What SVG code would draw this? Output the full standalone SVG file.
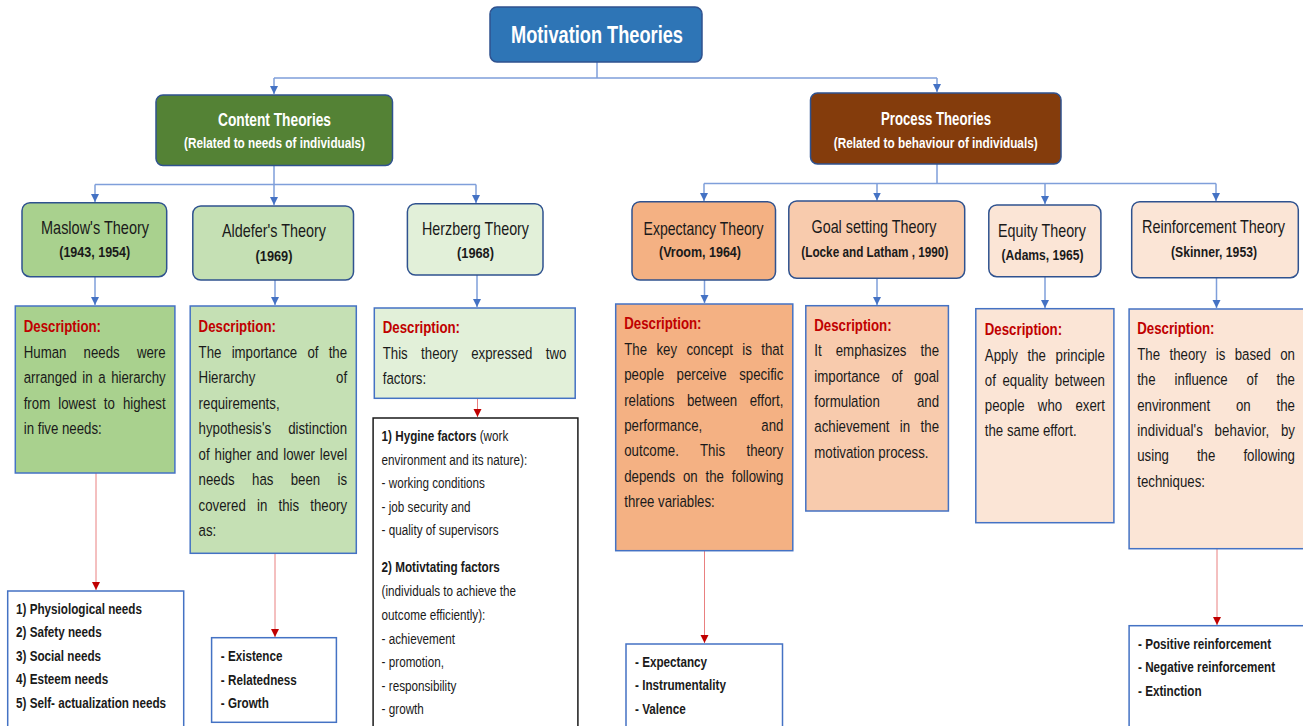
<svg xmlns="http://www.w3.org/2000/svg" width="1303" height="726" viewBox="0 0 1303 726">
<defs>
<marker id="ab" markerUnits="userSpaceOnUse" markerWidth="9" markerHeight="9" refX="8" refY="4" orient="auto"><path d="M0,0 L8,4 L0,8 z" fill="#4472C4"/></marker>
<marker id="ar" markerUnits="userSpaceOnUse" markerWidth="9" markerHeight="9" refX="8" refY="4" orient="auto"><path d="M0,0 L8,4 L0,8 z" fill="#C00000"/></marker>
<style>
text{font-family:"Liberation Sans",Arial,sans-serif;fill:#1a1a1a}
.w{fill:#fff;font-weight:bold}
.h{font-size:18px}
.y{font-size:15px;font-weight:bold}
.nb{stroke:#2F528F;stroke-width:1.5}
.db{stroke:#4472C4;stroke-width:1.5}
.d text{font-size:17px}
.dh{fill:#C00000!important;font-weight:bold}
.l text{font-size:15px}
.b{font-weight:bold}
.cb{fill:none;stroke:#7F9FDA;stroke-width:1.5}
.cr{fill:none;stroke:#E98080;stroke-width:1}
</style>
</defs>
<rect width="1303" height="726" fill="#fff"/>

<g id="connectors">
<path class="cb" d="M597 62 V78 M274 78 H937"/>
<path class="cb" d="M274 78 V94" marker-end="url(#ab)"/>
<path class="cb" d="M937 78 V92" marker-end="url(#ab)"/>
<path class="cb" d="M274 166 V184.5 M95 184.5 H476"/>
<path class="cb" d="M95 184.5 V202" marker-end="url(#ab)"/>
<path class="cb" d="M274 184.5 V205" marker-end="url(#ab)"/>
<path class="cb" d="M476 184.5 V203" marker-end="url(#ab)"/>
<path class="cb" d="M937 164 V183.5 M704 183.5 H1216"/>
<path class="cb" d="M704 183.5 V201" marker-end="url(#ab)"/>
<path class="cb" d="M877 183.5 V200.5" marker-end="url(#ab)"/>
<path class="cb" d="M1045 183.5 V204" marker-end="url(#ab)"/>
<path class="cb" d="M1216 183.5 V201" marker-end="url(#ab)"/>
<path class="cb" d="M95 277 V305" marker-end="url(#ab)"/>
<path class="cb" d="M275 280 V305" marker-end="url(#ab)"/>
<path class="cb" d="M477 275 V307" marker-end="url(#ab)"/>
<path class="cb" d="M704.5 280 V303" marker-end="url(#ab)"/>
<path class="cb" d="M877 278 V305" marker-end="url(#ab)"/>
<path class="cb" d="M1045 277 V308" marker-end="url(#ab)"/>
<path class="cb" d="M1216.5 278 V308" marker-end="url(#ab)"/>
<path class="cr" d="M96 473 V590" marker-end="url(#ar)"/>
<path class="cr" d="M275 553.5 V637" marker-end="url(#ar)"/>
<path class="cr" d="M477.5 398.5 V417" marker-end="url(#ar)"/>
<path class="cr" d="M704.5 551 V643" marker-end="url(#ar)"/>
<path class="cr" d="M1217 549 V625" marker-end="url(#ar)"/>
</g>

<g id="motivation">
<rect x="490" y="7" width="212" height="55" rx="7" fill="#2E75B6" class="nb"/>
<text class="w" transform="translate(597 0) scale(0.78 1)" x="0" y="43" font-size="24" text-anchor="middle" textLength="220.5" lengthAdjust="spacingAndGlyphs">Motivation Theories</text>
</g>

<g id="content">
<rect x="156" y="95" width="236.5" height="70.5" rx="7" fill="#548235" class="nb"/>
<text class="w" transform="translate(274.5 0) scale(0.78 1)" x="0" y="126" font-size="18" text-anchor="middle" textLength="144.9" lengthAdjust="spacingAndGlyphs">Content Theories</text>
<text class="w" transform="translate(274.5 0) scale(0.78 1)" x="0" y="148" font-size="15" text-anchor="middle" textLength="232.1" lengthAdjust="spacingAndGlyphs">(Related to needs of individuals)</text>
</g>

<g id="process">
<rect x="810.5" y="93" width="250.5" height="71" rx="7" fill="#843C0C" class="nb"/>
<text class="w" transform="translate(936 0) scale(0.78 1)" x="0" y="125" font-size="18" text-anchor="middle" textLength="141" lengthAdjust="spacingAndGlyphs">Process Theories</text>
<text class="w" transform="translate(935.7 0) scale(0.78 1)" x="0" y="148" font-size="15" text-anchor="middle" textLength="261.5" lengthAdjust="spacingAndGlyphs">(Related to behaviour of individuals)</text>
</g>

<g id="maslow">
<rect x="22" y="202.7" width="144.7" height="74" rx="8" fill="#A9D18E" class="nb"/>
<text class="h" transform="translate(95 0) scale(0.78 1)" x="0" y="234" text-anchor="middle" textLength="138.5" lengthAdjust="spacingAndGlyphs">Maslow's Theory</text>
<text class="y" transform="translate(94.7 0) scale(0.78 1)" x="0" y="257.5" text-anchor="middle" textLength="91" lengthAdjust="spacingAndGlyphs">(1943, 1954)</text>
</g>

<g id="aldefer">
<rect x="192.8" y="206" width="160.7" height="74" rx="8" fill="#C5E0B4" class="nb"/>
<text class="h" transform="translate(274 0) scale(0.78 1)" x="0" y="237" text-anchor="middle" textLength="133.3" lengthAdjust="spacingAndGlyphs">Aldefer's Theory</text>
<text class="y" transform="translate(274 0) scale(0.78 1)" x="0" y="261" text-anchor="middle" textLength="47.4" lengthAdjust="spacingAndGlyphs">(1969)</text>
</g>

<g id="herzberg">
<rect x="407.4" y="203.7" width="135.6" height="71.3" rx="8" fill="#E2F0D9" class="nb"/>
<text class="h" transform="translate(475.5 0) scale(0.78 1)" x="0" y="235" text-anchor="middle" textLength="137.2" lengthAdjust="spacingAndGlyphs">Herzberg Theory</text>
<text class="y" transform="translate(475.5 0) scale(0.78 1)" x="0" y="258.5" text-anchor="middle" textLength="47.4" lengthAdjust="spacingAndGlyphs">(1968)</text>
</g>

<g id="expectancy">
<rect x="632" y="201.7" width="143.5" height="78.3" rx="8" fill="#F4B183" class="nb"/>
<text class="h" transform="translate(703.5 0) scale(0.78 1)" x="0" y="235" text-anchor="middle" textLength="153.8" lengthAdjust="spacingAndGlyphs">Expectancy Theory</text>
<text class="y" transform="translate(700 0) scale(0.78 1)" x="0" y="257.5" text-anchor="middle" textLength="105.1" lengthAdjust="spacingAndGlyphs">(Vroom, 1964)</text>
</g>

<g id="goal">
<rect x="788.8" y="201" width="175.9" height="77.3" rx="8" fill="#F8CBAD" class="nb"/>
<text class="h" transform="translate(874 0) scale(0.78 1)" x="0" y="233" text-anchor="middle" textLength="160.3" lengthAdjust="spacingAndGlyphs">Goal setting Theory</text>
<text class="y" transform="translate(874.8 0) scale(0.78 1)" x="0" y="257.5" text-anchor="middle" textLength="188.5" lengthAdjust="spacingAndGlyphs">(Locke and Latham , 1990)</text>
</g>

<g id="equity">
<rect x="988.8" y="205" width="112.1" height="71.7" rx="8" fill="#FBE5D6" class="nb"/>
<text class="h" transform="translate(1042 0) scale(0.78 1)" x="0" y="237" text-anchor="middle" textLength="112.8" lengthAdjust="spacingAndGlyphs">Equity Theory</text>
<text class="y" transform="translate(1042.5 0) scale(0.78 1)" x="0" y="260.5" text-anchor="middle" textLength="105.1" lengthAdjust="spacingAndGlyphs">(Adams, 1965)</text>
</g>

<g id="reinforcement">
<rect x="1131.7" y="201.7" width="166.6" height="76" rx="8" fill="#FBE5D6" class="nb"/>
<text class="h" transform="translate(1213.5 0) scale(0.78 1)" x="0" y="233" text-anchor="middle" textLength="183.3" lengthAdjust="spacingAndGlyphs">Reinforcement Theory</text>
<text class="y" transform="translate(1214 0) scale(0.78 1)" x="0" y="257.5" text-anchor="middle" textLength="110.3" lengthAdjust="spacingAndGlyphs">(Skinner, 1953)</text>
</g>

<g id="maslow-desc">
<rect x="15.3" y="306" width="159.6" height="167" fill="#A9D18E" class="db"/>
<g class="d" transform="translate(23.7 0) scale(0.78 1)">
<text class="dh" x="0" y="332.5">Description:</text>
<text x="0" y="358" word-spacing="17.33" textLength="182" lengthAdjust="spacing">Human needs were</text>
<text x="0" y="383.5" word-spacing="2.42" textLength="182" lengthAdjust="spacing">arranged in a hierarchy</text>
<text x="0" y="409" word-spacing="5.56" textLength="182" lengthAdjust="spacing">from lowest to highest</text>
<text x="0" y="434.5">in five needs:</text>
</g>
</g>

<g id="maslow-list">
<rect x="7.7" y="591" width="176" height="140" fill="#fff" class="db"/>
<g class="l" transform="translate(16 0) scale(0.78 1)">
<text class="b" x="0" y="614">1) Physiological needs</text>
<text class="b" x="0" y="637.5">2) Safety needs</text>
<text class="b" x="0" y="661">3) Social needs</text>
<text class="b" x="0" y="684.5">4) Esteem needs</text>
<text class="b" x="0" y="708">5) Self- actualization needs</text>
</g>
</g>

<g id="aldefer-desc">
<rect x="190.2" y="306" width="166.1" height="247.3" fill="#C5E0B4" class="db"/>
<g class="d" transform="translate(198.6 0) scale(0.78 1)">
<text class="dh" x="0" y="332.5">Description:</text>
<text x="0" y="358" word-spacing="8.34" textLength="190.4" lengthAdjust="spacing">The importance of the</text>
<text x="0" y="383.5" word-spacing="98.77" textLength="190.4" lengthAdjust="spacing">Hierarchy of</text>
<text x="0" y="409">requirements,</text>
<text x="0" y="434.5" word-spacing="17.07" textLength="190.4" lengthAdjust="spacing">hypothesis's distinction</text>
<text x="0" y="460" word-spacing="1.55" textLength="190.4" lengthAdjust="spacing">of higher and lower level</text>
<text x="0" y="485.5" word-spacing="17.47" textLength="190.4" lengthAdjust="spacing">needs has been is</text>
<text x="0" y="511" word-spacing="9.61" textLength="190.4" lengthAdjust="spacing">covered in this theory</text>
<text x="0" y="536.5">as:</text>
</g>
</g>

<g id="aldefer-list">
<rect x="211.6" y="637.7" width="124.8" height="84.6" fill="#fff" class="db"/>
<g class="l" transform="translate(220.8 0) scale(0.78 1)">
<text class="b" x="0" y="661.5">- Existence</text>
<text class="b" x="0" y="685">- Relatedness</text>
<text class="b" x="0" y="708.5">- Growth</text>
</g>
</g>

<g id="herzberg-desc">
<rect x="374.3" y="308" width="200.9" height="90.3" fill="#E2F0D9" class="db"/>
<g class="d" transform="translate(382.7 0) scale(0.78 1)">
<text class="dh" x="0" y="333.5">Description:</text>
<text x="0" y="359" word-spacing="12.37" textLength="235.5" lengthAdjust="spacing">This theory expressed two</text>
<text x="0" y="384.5">factors:</text>
</g>
</g>

<g id="herzberg-list">
<rect x="373.1" y="418" width="204.8" height="320" fill="#fff" stroke="#1a1a1a" stroke-width="1.5"/>
<g class="l" transform="translate(381.6 0) scale(0.78 1)">
<text x="0" y="441.5"><tspan class="b">1) Hygine factors</tspan> (work</text>
<text x="0" y="465">environment and its nature):</text>
<text x="0" y="488.5">- working conditions</text>
<text x="0" y="512">- job security and</text>
<text x="0" y="535.5">- quality of supervisors</text>
<text class="b" x="0" y="572.5">2) Motivtating factors</text>
<text x="0" y="596.5">(individuals to achieve the</text>
<text x="0" y="620">outcome efficiently):</text>
<text x="0" y="644">- achievement</text>
<text x="0" y="667">- promotion,</text>
<text x="0" y="691">- responsibility</text>
<text x="0" y="714">- growth</text>
</g>
</g>

<g id="expectancy-desc">
<rect x="615.7" y="304" width="177.1" height="246.7" fill="#F4B183" class="db"/>
<g class="d" transform="translate(624.2 0) scale(0.78 1)">
<text class="dh" x="0" y="329">Description:</text>
<text x="0" y="355" word-spacing="7.32" textLength="204.1" lengthAdjust="spacing">The key concept is that</text>
<text x="0" y="380.5" word-spacing="11.32" textLength="204.1" lengthAdjust="spacing">people perceive specific</text>
<text x="0" y="406" word-spacing="11.32" textLength="204.1" lengthAdjust="spacing">relations between effort,</text>
<text x="0" y="431" word-spacing="70.87" textLength="204.1" lengthAdjust="spacing">performance, and</text>
<text x="0" y="456.5" word-spacing="22.67" textLength="204.1" lengthAdjust="spacing">outcome. This theory</text>
<text x="0" y="482" word-spacing="5.34" textLength="204.1" lengthAdjust="spacing">depends on the following</text>
<text x="0" y="507.5">three variables:</text>
</g>
</g>

<g id="expectancy-list">
<rect x="626" y="644" width="156.5" height="94" fill="#fff" class="db"/>
<g class="l" transform="translate(635 0) scale(0.78 1)">
<text class="b" x="0" y="667">- Expectancy</text>
<text class="b" x="0" y="690.5">- Instrumentality</text>
<text class="b" x="0" y="714">- Valence</text>
</g>
</g>

<g id="goal-desc">
<rect x="805.8" y="305.7" width="142.6" height="205.3" fill="#F8CBAD" class="db"/>
<g class="d" transform="translate(814.3 0) scale(0.78 1)">
<text class="dh" x="0" y="331">Description:</text>
<text x="0" y="356.5" word-spacing="13.32" textLength="159.9" lengthAdjust="spacing">It emphasizes the</text>
<text x="0" y="382" word-spacing="10.02" textLength="159.9" lengthAdjust="spacing">importance of goal</text>
<text x="0" y="407" word-spacing="42.77" textLength="159.9" lengthAdjust="spacing">formulation and</text>
<text x="0" y="432.5" word-spacing="8.62" textLength="159.9" lengthAdjust="spacing">achievement in the</text>
<text x="0" y="458.5">motivation process.</text>
</g>
</g>

<g id="equity-desc">
<rect x="975.8" y="308.7" width="138.1" height="214" fill="#FBE5D6" class="db"/>
<g class="d" transform="translate(984.8 0) scale(0.78 1)">
<text class="dh" x="0" y="335">Description:</text>
<text x="0" y="361" word-spacing="7.57" textLength="154" lengthAdjust="spacing">Apply the principle</text>
<text x="0" y="386" word-spacing="3.77" textLength="154" lengthAdjust="spacing">of equality between</text>
<text x="0" y="411.5" word-spacing="12.27" textLength="154" lengthAdjust="spacing">people who exert</text>
<text x="0" y="436.5">the same effort.</text>
</g>
</g>

<g id="reinforcement-desc">
<rect x="1129.1" y="309" width="190" height="239.7" fill="#FBE5D6" class="db"/>
<g class="d" transform="translate(1137.2 0) scale(0.78 1)">
<text class="dh" x="0" y="334">Description:</text>
<text x="0" y="360" word-spacing="7.35" textLength="202.3" lengthAdjust="spacing">The theory is based on</text>
<text x="0" y="385" word-spacing="19.54" textLength="202.3" lengthAdjust="spacing">the influence of the</text>
<text x="0" y="411" word-spacing="28.37" textLength="202.3" lengthAdjust="spacing">environment on the</text>
<text x="0" y="436" word-spacing="9.97" textLength="202.3" lengthAdjust="spacing">individual's behavior, by</text>
<text x="0" y="461.5" word-spacing="31.22" textLength="202.3" lengthAdjust="spacing">using the following</text>
<text x="0" y="487">techniques:</text>
</g>
</g>

<g id="reinforcement-list">
<rect x="1129.1" y="625.7" width="190" height="120" fill="#fff" class="db"/>
<g class="l" transform="translate(1138 0) scale(0.78 1)">
<text class="b" x="0" y="649">- Positive reinforcement</text>
<text class="b" x="0" y="672">- Negative reinforcement</text>
<text class="b" x="0" y="696">- Extinction</text>
</g>
</g>
</svg>
